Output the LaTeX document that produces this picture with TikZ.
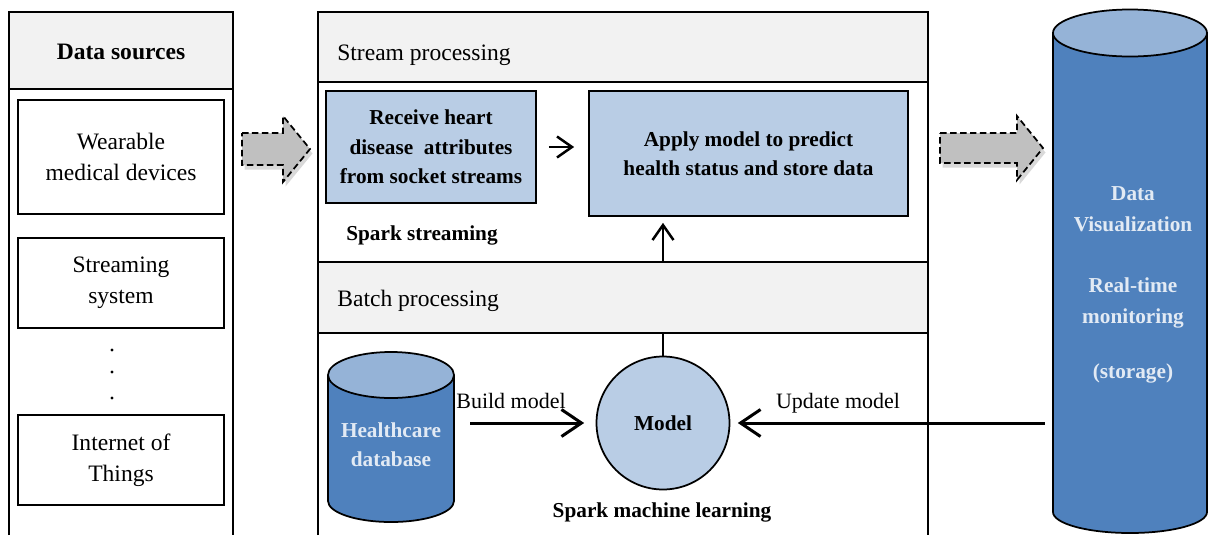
\documentclass[tikz,border=0pt]{standalone}
\usepackage{fontspec}
\setmainfont{Liberation Serif}
\usetikzlibrary{calc, positioning}
\usetikzlibrary{arrows.meta}
\usetikzlibrary{shadows}

\definecolor{hdrgray}{HTML}{F2F2F2}
\definecolor{boxblue}{HTML}{B9CDE5}
\definecolor{drumblue}{HTML}{4F81BD}
\definecolor{drumtop}{HTML}{95B3D7}
\definecolor{drumtext}{HTML}{E2EAF4}
\definecolor{flowgray}{HTML}{C0C0C0}

% cx, top y, bottom y, rx, ry top, ry bottom
\newcommand{\drum}[6]{%
\filldraw[line width=0.35mm, fill=drumblue] ({#1-#4},#2) -- ({#1-#4},#3) arc[start angle=180, end angle=360, x radius=#4, y radius=#6] -- ({#1+#4},#2);
\filldraw[line width=0.35mm, fill=drumtop] (#1,#2) ellipse[x radius=#4, y radius=#5];
}
% body left x, head x, tip x, centre y, body half height, head half height
\newcommand{\blockarrow}[6]{%
\filldraw[dashed, dash pattern=on 1.3mm off 0.7mm, line width=0.35mm, fill=flowgray,
  drop shadow={shadow xshift=0.5mm, shadow yshift=-0.9mm, opacity=0.3}]
  (#1,{#4+#5}) -- (#2,{#4+#5}) -- (#2,{#4+#6}) -- (#3,#4) -- (#2,{#4-#6}) -- (#2,{#4-#5}) -- (#1,{#4-#5}) -- cycle;
}

\begin{document}
\begin{tikzpicture}[x=0.02cm,y=0.02cm,
  panel/.style={line width=0.4mm},
  srcbox/.style={draw, line width=0.35mm, minimum width=4.12cm, inner sep=0pt, align=center, font=\fontsize{13.4}{17.6}\selectfont},
  taskbox/.style={draw, line width=0.35mm, fill=boxblue, inner sep=0pt, align=center, font=\fontsize{12.1}{16.7}\selectfont\bfseries},
  hdr/.style={inner sep=0pt, font=\fontsize{13.4}{17.6}\selectfont},
  boldlbl/.style={inner sep=0pt, align=center, font=\fontsize{12.1}{16.7}\selectfont\bfseries},
  lbl/.style={inner sep=0pt, font=\fontsize{12.5}{16}\selectfont},
  flow/.style={-{Straight Barb[length=4mm,width=5.4mm]}, line width=0.6mm},
  minorflow/.style={-{Straight Barb[length=3mm,width=4.2mm]}, line width=0.5mm}]
\def\srcl{9}
\def\srcr{233}
\def\midl{318}
\def\midr{928}
\def\ybot{-535}
\useasboundingbox (0,0) rectangle (1208,\ybot);

\draw[panel] (\srcl,\ybot) -- (\srcl,-12) -- (\srcr,-12) -- (\srcr,\ybot);
\draw[panel, fill=hdrgray] (\srcl,-12) rectangle (\srcr,-89);
\node[hdr, font=\fontsize{13.4}{17.6}\selectfont\bfseries] (srctitle) at (121,-52) {Data sources};
\node[srcbox, minimum height=2.28cm] (wear) at (121,-157) {Wearable\\medical devices};
\node[srcbox, minimum height=1.8cm] (stsys) at (121,-283) {Streaming\\system};
\node[srcbox, minimum height=1.8cm] (iot) at (121,-460) {Internet of\\Things};
\foreach \y in {350,372,398} \fill (112,-\y) circle[radius=1.6];

\blockarrow{242}{283}{310}{-149}{16}{33}
\blockarrow{940}{1017}{1043}{-148}{15}{32}

\draw[panel] (\midl,\ybot) -- (\midl,-12) -- (\midr,-12) -- (\midr,\ybot);
\draw[panel, fill=hdrgray] (\midl,-12) rectangle (\midr,-82);
\node[hdr, anchor=west] (stream) at (337,-55) {Stream processing};
\node[taskbox, minimum width=4.2cm, minimum height=2.24cm] (receive) at (431,-147) {Receive heart\\disease\ \ attributes\\from socket streams};
\node[taskbox, minimum width=6.38cm, minimum height=2.5cm] (apply) at (748.5,-153.5) {Apply model to predict\\health status and store data};
\node[boldlbl] (sparkstr) at (422,-235) {Spark streaming};
\draw[minorflow, shorten <=0.24cm, shorten >=0.28cm] (receive.east) -- (apply.west |- receive.east);

\node[circle, draw, line width=0.35mm, fill=boxblue, minimum size=2.66cm, inner sep=0pt, font=\fontsize{12.1}{16.7}\selectfont\bfseries] (model) at (663,-423) {Model};
\draw[minorflow, shorten >=0.12cm] (model.north) -- (model.north |- apply.south);
\draw[panel, fill=hdrgray] (\midl,-262) rectangle (\midr,-333);
\node[hdr, anchor=west] (batch) at (337,-301) {Batch processing};

\drum{391}{-375}{-501}{63}{23}{21}
\node[boldlbl, text=drumtext, minimum width=2.52cm] (db) at (391,-445) {Healthcare\\database};
\node[boldlbl] (sparkml) at (662,-512) {Spark machine learning};
\draw[flow, shorten <=0.32cm, shorten >=0.23cm] (db.east |- model.west) -- (model.west);
\node[lbl] (buildlbl) at (511,-401) {Build model};

\drum{1130}{-33}{-512}{77}{23.5}{21}
\node[boldlbl, text=drumtext, minimum width=3.08cm, font=\fontsize{12.1}{17.6}\selectfont\bfseries] (viz) at (1133,-285) {Data\\Visualization\\[0.6cm]Real-time\\monitoring\\[0.48cm](storage)};
\draw[flow, shorten <=0.22cm, shorten >=0.15cm] (viz.west |- model.east) -- (model.east);
\node[lbl] (updatelbl) at (838,-403) {Update model};
\end{tikzpicture}
\end{document}
